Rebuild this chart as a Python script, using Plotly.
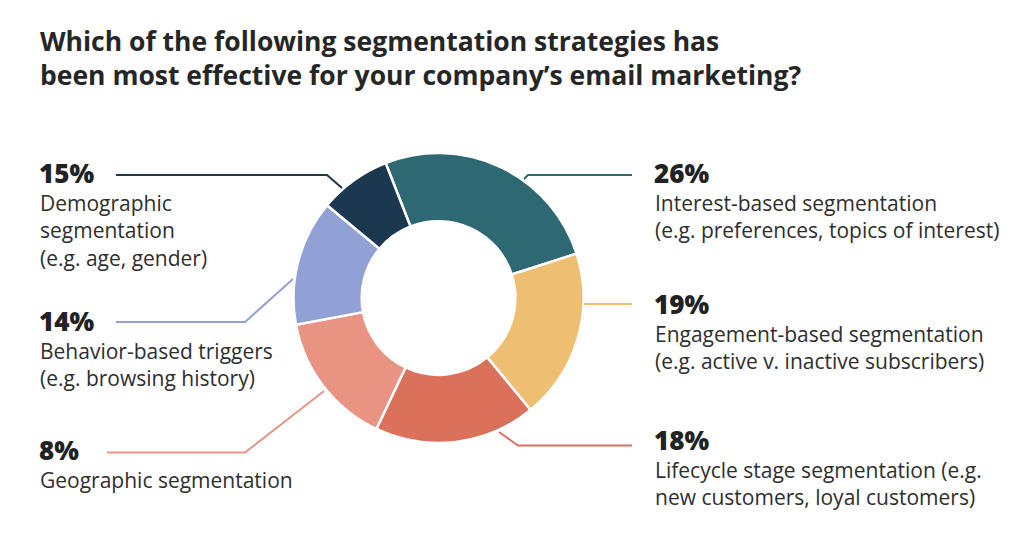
import plotly.graph_objects as go

# Page body has an 8px margin, so the figure is drawn 8px in from the window edge
OFF = 8
W, H = 1024 - 2 * OFF, 547 - 2 * OFF

# Slices as drawn (clockwise from the top-left)
slice_names = ["Interest-based", "Engagement-based", "Lifecycle stage",
               "Salmon slice", "Behavior-based", "Navy slice"]
slice_values = [26, 19, 18, 15, 14, 8]
slice_colors = ["#2e6873", "#eebf73", "#db705b", "#e99382", "#91a0d5", "#1b3850"]

# Label blocks (percent as printed, description lines)
label_pcts = ["15%", "14%", "8%", "26%", "19%", "18%"]
label_lines = [
    ["Demographic", "segmentation", "(e.g. age, gender)"],
    ["Behavior-based triggers", "(e.g. browsing history)"],
    ["Geographic segmentation"],
    ["Interest-based segmentation", "(e.g. preferences, topics of interest)"],
    ["Engagement-based segmentation", "(e.g. active v. inactive subscribers)"],
    ["Lifecycle stage segmentation (e.g.", "new customers, loyal customers)"],
]
label_colors = ["#1b3850", "#91a0d5", "#e99382", "#2e6873", "#eebf73", "#db705b"]

title_lines = ["Which of the following segmentation strategies has",
               "been most effective for your company’s email marketing?"]

# ---- layout geometry (window pixels) ----
cx, cy, R = 438.5, 298, 145
label_x = [40, 40, 40, 655, 655, 655]
label_y = [173, 321, 450, 173, 304, 440]
connectors = [
    [(116, 175), (327, 175), (342, 188)],
    [(116, 322), (245, 322), (293, 279)],
    [(107, 452.5), (245, 452.5), (324, 391)],
    [(632, 175), (528, 175), (524, 179)],
    [(632, 304), (584, 304)],
    [(632, 445.5), (518, 445.5), (499, 432)],
]

FONT = "Open Sans"
DESC_SIZE = 21
LINE_GAP = 1.3 * DESC_SIZE


def px(x):
    return (x - OFF) / W


def py(y):
    return 1 - (y - OFF) / H


fig = go.Figure(go.Pie(
    labels=slice_names,
    values=slice_values,
    marker=dict(colors=slice_colors, line=dict(color="white", width=2.5)),
    hole=0.53,
    sort=False,
    direction="clockwise",
    rotation=-21.4,
    textinfo="none",
    showlegend=False,
    domain=dict(x=[px(cx - R), px(cx + R)], y=[py(cy + R), py(cy - R)]),
))

base = dict(xref="paper", yref="paper", xanchor="left", yanchor="middle",
            showarrow=False, borderpad=0, borderwidth=0, align="left")

ann = [dict(text="<br>".join(title_lines), x=px(40), y=py(58),
            font=dict(family=FONT, size=26.5, color="#262626", weight="bold"), **base)]

for i in range(len(label_pcts)):
    ann.append(dict(text=label_pcts[i], x=px(label_x[i] - 1), y=py(label_y[i]),
                    font=dict(family=FONT, size=26, color="#222222", weight=800), **base))
    n = len(label_lines[i])
    block_mid = label_y[i] + 30 + (n - 1) * LINE_GAP / 2
    ann.append(dict(text="<br>".join(label_lines[i]), x=px(label_x[i]), y=py(block_mid),
                    font=dict(family=FONT, size=DESC_SIZE, color="#2e2e2e"), **base))

shapes = []
for pts, col in zip(connectors, label_colors):
    path = "M " + " L ".join(f"{px(x):.5f},{py(y):.5f}" for x, y in pts)
    shapes.append(dict(type="path", path=path, xref="paper", yref="paper",
                       line=dict(color=col, width=2)))

fig.update_layout(
    width=W, height=H, margin=dict(l=0, r=0, t=0, b=0),
    paper_bgcolor="white", plot_bgcolor="white",
    annotations=ann, shapes=shapes,
)

fig.write_html("out.html")
